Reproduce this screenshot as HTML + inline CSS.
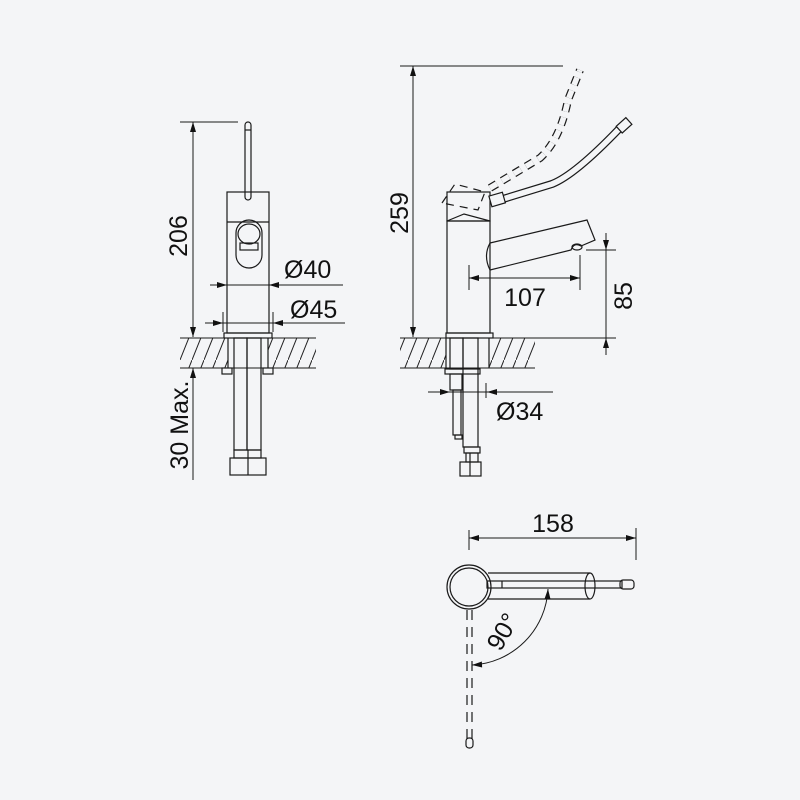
<!DOCTYPE html>
<html><head><style>html,body{margin:0;padding:0;background:#f4f5f7}svg{display:block}</style></head>
<body>
<svg width="800" height="800" viewBox="0 0 800 800" xmlns="http://www.w3.org/2000/svg">
<defs>
<marker id="a" viewBox="0 0 10 6" refX="10" refY="3" markerWidth="11" markerHeight="6" orient="auto-start-reverse" markerUnits="userSpaceOnUse"><path d="M0,0L10,3L0,6Z" fill="#111"/></marker>
<clipPath id="h1"><rect x="180" y="338" width="48" height="30"/><rect x="268" y="338" width="48" height="30"/></clipPath>
<clipPath id="h2"><rect x="400" y="338" width="46" height="30"/><rect x="489" y="338" width="46" height="30"/></clipPath>
<pattern id="hp" width="12" height="30" patternUnits="userSpaceOnUse"><path d="M0,30L12,0" stroke="#222" stroke-width="1"/></pattern>
</defs>
<rect width="800" height="800" fill="#f4f5f7"/>
<g fill="none" stroke="#1a1a1a" stroke-width="1.2">
<!-- LEFT VIEW -->
<line x1="180" y1="122" x2="238" y2="122" stroke-width="1"/>
<line x1="193" y1="122" x2="193" y2="337" marker-start="url(#a)" marker-end="url(#a)" stroke-width="1"/>
<line x1="193" y1="368" x2="193" y2="480" marker-start="url(#a)" stroke-width="1"/>
<rect x="245" y="122" width="6" height="78" rx="3"/>
<line x1="245" y1="130" x2="251" y2="130"/>
<rect x="227" y="192" width="42" height="141"/>
<line x1="227" y1="222" x2="269" y2="222"/>
<rect x="236" y="220" width="26" height="48" rx="13"/>
<ellipse cx="249" cy="234" rx="11" ry="10"/>
<rect x="240" y="243" width="18" height="7"/>
<line x1="210" y1="285" x2="343" y2="285" stroke-width="1"/>
<line x1="210" y1="285" x2="227" y2="285" marker-end="url(#a)" stroke-width="1"/>
<line x1="286" y1="285" x2="269" y2="285" marker-end="url(#a)" stroke-width="1"/>
<line x1="205" y1="323" x2="345" y2="323" stroke-width="1"/>
<line x1="205" y1="323" x2="223" y2="323" marker-end="url(#a)" stroke-width="1"/>
<line x1="291" y1="323" x2="273" y2="323" marker-end="url(#a)" stroke-width="1"/>
<line x1="223" y1="312" x2="223" y2="332" stroke-width="1"/>
<line x1="273" y1="312" x2="273" y2="332" stroke-width="1"/>
<rect x="224" y="333" width="48" height="5"/>
<line x1="180" y1="338" x2="316" y2="338" stroke-width="1"/>
<line x1="180" y1="368" x2="316" y2="368" stroke-width="1"/>
<rect x="180" y="338" width="136" height="30" fill="url(#hp)" stroke="none" clip-path="url(#h1)"/>
<line x1="228" y1="338" x2="228" y2="368"/><line x1="268" y1="338" x2="268" y2="368"/>
<rect x="222" y="368" width="10" height="6"/><rect x="263" y="368" width="10" height="6"/>
<rect x="234" y="338" width="13" height="112"/><rect x="247" y="338" width="14" height="112"/>
<rect x="234" y="450" width="27" height="8"/>
<rect x="230" y="458" width="36" height="17"/>
<line x1="248" y1="450" x2="248" y2="475"/>
<!-- RIGHT VIEW -->
<line x1="400" y1="66" x2="563" y2="66" stroke-width="1"/>
<line x1="413" y1="66" x2="413" y2="337" marker-start="url(#a)" marker-end="url(#a)" stroke-width="1"/>
<rect x="447" y="192" width="43" height="29"/>
<path d="M447,221L464,214L490,221"/>
<rect x="447" y="221" width="43" height="112"/>
<path d="M490,243L587,220L595,240L581,246Q574,242 571,250L490,270M490,243Q483,256 490,270"/>
<ellipse cx="577" cy="247" rx="5" ry="3"/>
<!-- lever -->
<path d="M503,199L552,184Q575,175 620,128" stroke-width="8"/>
<path d="M503,199L552,184Q575,175 620,128" stroke="#f4f5f7" stroke-width="5.6"/>
<rect x="490" y="194" width="14" height="11" transform="rotate(-16 497 199)" fill="#f4f5f7"/>
<rect x="618" y="121" width="13" height="9" transform="rotate(-42 624 126)" fill="#f4f5f7"/>
<g stroke-dasharray="8,6">
<path d="M442,203L455,184L485,192L478,210Z"/>
<path d="M490,188L540,158Q560,140 568,100L580,70" stroke-width="8"/>
</g>
<g stroke-dasharray="8,6" stroke="#f4f5f7">
<path d="M490,188L540,158Q560,140 568,100L580,70" stroke-width="5.6"/>
</g>
<line x1="469" y1="265" x2="469" y2="290" stroke-width="1"/>
<line x1="580" y1="255" x2="580" y2="290" stroke-width="1"/>
<line x1="469" y1="278" x2="580" y2="278" marker-start="url(#a)" marker-end="url(#a)" stroke-width="1"/>
<line x1="586" y1="250" x2="616" y2="250" stroke-width="1"/>
<line x1="606" y1="233" x2="606" y2="250" marker-end="url(#a)" stroke-width="1"/>
<line x1="606" y1="250" x2="606" y2="338" stroke-width="1"/>
<line x1="606" y1="355" x2="606" y2="338" marker-end="url(#a)" stroke-width="1"/>
<rect x="446" y="333" width="47" height="5"/>
<line x1="400" y1="338" x2="616" y2="338" stroke-width="1"/>
<line x1="400" y1="368" x2="535" y2="368" stroke-width="1"/>
<rect x="400" y="338" width="135" height="30" fill="url(#hp)" stroke="none" clip-path="url(#h2)"/>
<line x1="446" y1="338" x2="446" y2="368"/><line x1="489" y1="338" x2="489" y2="368"/>
<rect x="450" y="338" width="13" height="31"/><rect x="463" y="338" width="15" height="109"/>
<rect x="445" y="369" width="35" height="5"/>
<rect x="450" y="374" width="12" height="16"/>
<rect x="453" y="390" width="8" height="45"/>
<rect x="455" y="435" width="7" height="4"/>
<rect x="464" y="447" width="16" height="6"/>
<rect x="466" y="453" width="12" height="9"/>
<rect x="460" y="462" width="21" height="14"/>
<line x1="470" y1="453" x2="470" y2="476"/>
<line x1="428" y1="392" x2="553" y2="392" stroke-width="1"/>
<line x1="428" y1="392" x2="450" y2="392" marker-end="url(#a)" stroke-width="1"/>
<line x1="505" y1="392" x2="487" y2="392" marker-end="url(#a)" stroke-width="1"/>
<line x1="486" y1="383" x2="486" y2="398" stroke-width="1"/>
<!-- TOP VIEW -->
<line x1="469" y1="530" x2="469" y2="550" stroke-width="1"/>
<line x1="636" y1="528" x2="636" y2="560" stroke-width="1"/>
<line x1="469" y1="538" x2="636" y2="538" marker-start="url(#a)" marker-end="url(#a)" stroke-width="1"/>
<circle cx="469" cy="587" r="22"/>
<circle cx="469" cy="587" r="19"/>
<path d="M488,573L590,573M488,599L590,599"/>
<ellipse cx="590" cy="586" rx="5" ry="13"/>
<rect x="487" y="581" width="135" height="7"/>
<rect x="620" y="580" width="14" height="9" rx="3"/>
<line x1="502" y1="581" x2="502" y2="588"/>
<g stroke-dasharray="10,7">
<line x1="467" y1="610" x2="467" y2="740"/>
<line x1="472" y1="610" x2="472" y2="740"/>
</g>
<rect x="466" y="738" width="7" height="10" rx="3"/>
<path d="M548,589A80,80 0 0 1 472,665" stroke-width="1" marker-start="url(#a)" marker-end="url(#a)"/>
</g>
<g font-family="'Liberation Sans', sans-serif" font-size="25" fill="#111">
<text transform="translate(187,236) rotate(-90)" text-anchor="middle">206</text>
<text transform="translate(188,425) rotate(-90)" text-anchor="middle">30 Max.</text>
<text x="284" y="278">Ø40</text>
<text x="290" y="318">Ø45</text>
<text transform="translate(408,213) rotate(-90)" text-anchor="middle">259</text>
<text x="525" y="306" text-anchor="middle">107</text>
<text transform="translate(632,296) rotate(-90)" text-anchor="middle">85</text>
<text x="496" y="420">Ø34</text>
<text x="553" y="532" text-anchor="middle">158</text>
<text transform="translate(510,636) rotate(-60)" text-anchor="middle">90°</text>
</g>
</svg>
</body></html>
